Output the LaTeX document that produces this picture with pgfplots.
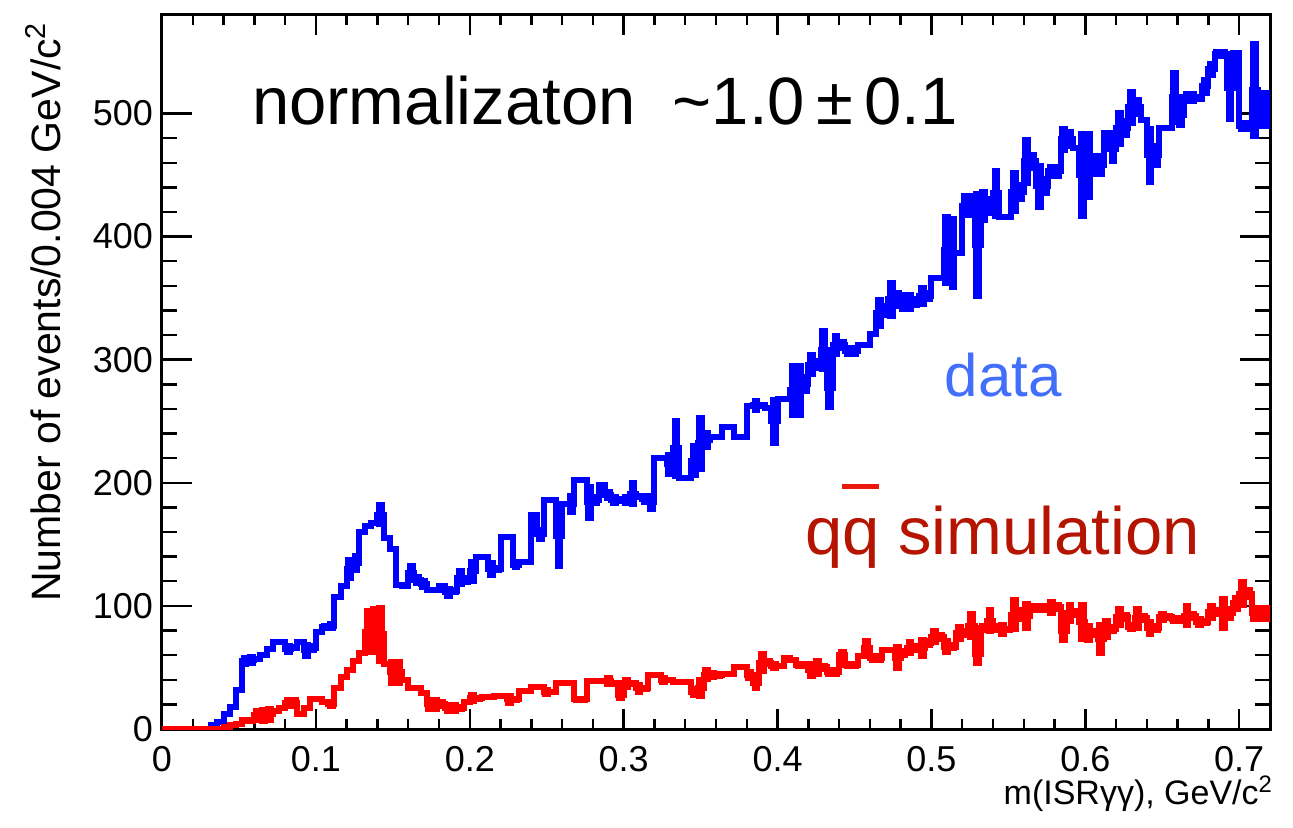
\documentclass[border=0pt]{standalone}
\usepackage{fontspec}
\setmainfont{Liberation Sans}
\usepackage{pgfplots}
\usepackage{pgfplotstable}
\pgfplotsset{compat=1.18}
\definecolor{datacol}{RGB}{65,110,250}
\definecolor{simcol}{RGB}{180,20,0}
\definecolor{qbarcol}{RGB}{235,25,10}
\definecolor{hblue}{RGB}{0,0,255}
\definecolor{hred}{RGB}{255,0,0}

\pgfplotstableread{
x y e
0.000 0 0
0.002 0 0
0.006 0 0
0.010 0 0
0.014 0 0
0.018 0 0
0.022 0 0
0.026 0 0
0.030 0 0
0.034 3 0
0.038 6 0
0.042 12 0
0.046 18 0
0.050 32 0
0.054 55 5
0.058 56 5
0.062 57 0
0.066 60 0
0.070 65 0
0.074 71 0
0.078 71 0
0.082 65 5
0.086 66 3
0.090 71 0
0.094 64 7
0.098 66 4
0.102 79 0
0.106 83 3
0.110 84 4
0.114 107 0
0.118 116 0
0.122 130 10
0.126 135 8
0.130 160 0
0.134 165 0
0.138 167 0
0.142 174 10
0.146 155 0
0.150 146 0
0.154 117 0
0.158 116 0
0.162 127 8
0.166 121 5
0.170 118 5
0.174 113 0
0.178 113 0
0.182 116 0
0.186 111 5
0.190 112 3
0.194 123 8
0.198 121 4
0.202 128 10
0.206 140 0
0.210 140 0
0.214 130 7
0.218 130 3
0.222 156 0
0.226 156 0
0.230 133 4
0.234 136 0
0.238 136 0
0.242 174 0
0.246 158 6
0.250 186 0
0.254 186 0
0.258 157 27
0.262 183 0
0.266 183 9
0.270 202 0
0.274 202 0
0.278 184 15
0.282 186 5
0.286 198 0
0.290 190 5
0.294 186 5
0.298 186 3
0.302 186 5
0.306 191 11
0.310 189 3
0.314 187 5
0.318 184 8
0.322 220 0
0.326 220 0
0.330 215 10
0.334 228 25
0.338 204 0
0.342 204 0
0.346 218 14
0.350 232 23
0.354 235 8
0.358 237 0
0.362 237 0
0.366 245 0
0.370 245 0
0.374 237 0
0.378 237 0
0.382 262 0
0.386 263 6
0.390 263 3
0.394 261 0
0.398 250 20
0.402 268 0
0.406 268 0
0.410 275 22
0.414 275 22
0.418 280 8
0.422 296 10
0.426 296 5
0.430 308 18
0.434 277 18
0.438 312 10
0.442 312 5
0.446 307 5
0.450 307 5
0.454 312 0
0.458 312 0
0.462 321 0
0.466 338 13
0.470 340 6
0.474 349 16
0.478 349 8
0.482 347 8
0.486 347 8
0.490 347 5
0.494 352 9
0.498 352 5
0.502 366 0
0.506 366 0
0.510 389 29
0.514 387 30
0.518 387 0
0.522 425 10
0.526 425 10
0.530 393 44
0.534 425 14
0.538 425 8
0.542 435 21
0.546 416 0
0.550 416 0
0.554 436 18
0.558 436 8
0.562 461 20
0.566 461 8
0.570 441 19
0.574 441 8
0.578 453 6
0.582 453 6
0.586 479 11
0.590 479 8
0.594 472 0
0.598 450 36
0.602 458 28
0.606 458 10
0.610 458 10
0.614 484 0
0.618 471 12
0.622 488 15
0.626 488 8
0.630 505 15
0.634 505 8
0.638 495 0
0.642 466 24
0.646 466 10
0.650 488 0
0.654 488 0
0.658 513 22
0.662 499 11
0.666 513 5
0.670 513 5
0.674 512 0
0.678 522 8
0.682 536 7
0.686 548 4
0.690 548 4
0.694 521 28
0.698 549 0
0.702 490 5
0.706 490 5
0.710 519 40
0.714 503 16
0.718 503 16
0.720 503 0
}\datatable

\pgfplotstableread{
x y e
0.000 0 0
0.002 0 0
0.006 0 0
0.010 0 0
0.014 0 0
0.018 0 0
0.022 0 0
0.026 0 0
0.030 0 0
0.034 0 0
0.038 0 0
0.042 2 0
0.046 3 0
0.050 4 0
0.054 7 3
0.058 7 3
0.062 11 6
0.066 11 7
0.070 12 7
0.074 15 0
0.078 17 0
0.082 21 5
0.086 21 5
0.090 12 0
0.094 17 0
0.098 24 0
0.102 24 0
0.106 22 0
0.110 20 4
0.114 33 0
0.118 42 0
0.122 48 0
0.126 55 0
0.130 62 0
0.134 79 19
0.138 80 20
0.142 77 24
0.146 53 0
0.150 46 11
0.154 46 11
0.158 40 0
0.162 33 0
0.166 33 0
0.170 29 0
0.174 20 6
0.178 20 6
0.182 20 4
0.186 17 5
0.190 17 5
0.194 17 3
0.198 22 0
0.202 25 5
0.206 25 3
0.210 26 0
0.214 26 0
0.218 27 0
0.222 27 0
0.226 24 5
0.230 24 3
0.234 31 0
0.238 31 0
0.242 34 0
0.246 34 0
0.250 30 4
0.254 30 2
0.258 37 0
0.262 37 0
0.266 37 0
0.270 24 3
0.274 24 3
0.278 39 0
0.282 39 0
0.286 39 0
0.290 39 5
0.294 37 3
0.298 28 5
0.302 37 5
0.306 37 3
0.310 33 5
0.314 33 3
0.318 44 0
0.322 44 0
0.326 40 4
0.330 40 2
0.334 38 0
0.338 38 0
0.342 38 0
0.346 30 5
0.350 33 9
0.354 44 6
0.358 44 4
0.362 44 3
0.366 45 0
0.370 45 0
0.374 50 0
0.378 50 0
0.382 44 5
0.386 37 6
0.390 54 9
0.394 54 4
0.398 51 4
0.402 51 2
0.406 58 0
0.410 56 0
0.414 52 3
0.418 52 3
0.422 48 7
0.426 50 8
0.430 50 4
0.434 46 4
0.438 46 4
0.442 60 5
0.446 52 3
0.450 52 3
0.454 59 0
0.458 66 8
0.462 58 4
0.466 58 4
0.470 64 0
0.474 64 0
0.478 58 11
0.482 62 4
0.486 66 7
0.490 66 4
0.494 66 9
0.498 70 4
0.502 75 7
0.506 75 4
0.510 67 7
0.514 67 4
0.518 78 7
0.522 78 4
0.526 84 12
0.530 61 10
0.534 82 4
0.538 88 11
0.542 82 4
0.546 81 6
0.550 81 3
0.554 93 14
0.558 93 6
0.562 92 12
0.566 98 4
0.570 98 4
0.574 98 4
0.578 99 7
0.582 99 4
0.586 80 10
0.590 94 9
0.594 94 4
0.598 87 16
0.602 78 8
0.606 78 4
0.610 73 14
0.614 81 9
0.618 81 4
0.622 91 9
0.626 91 4
0.630 83 4
0.634 90 10
0.638 90 4
0.642 82 7
0.646 82 4
0.650 91 5
0.654 91 3
0.658 89 4
0.662 89 4
0.666 92 10
0.670 92 4
0.674 87 5
0.678 87 3
0.682 95 7
0.686 95 4
0.690 94 14
0.694 94 6
0.698 102 7
0.702 110 12
0.706 110 5
0.710 94 7
0.714 94 7
0.718 94 7
0.720 94 0
}\simtable

\begin{document}
\begin{tikzpicture}
\begin{axis}[
  at={(0,0)}, anchor=south west,
  scale only axis, width=554pt, height=357pt,
  xmin=0, xmax=0.72, ymin=0, ymax=580,
  xtick={0,0.1,0.2,0.3,0.4,0.5,0.6,0.7},
  ytick={0,100,200,300,400,500},
  minor x tick num=4, minor y tick num=4,
  tick align=inside,
  axis line style={line width=1.5pt},
  every tick/.style={black, line width=1.2pt},
  major tick length=15pt, minor tick length=7.5pt,
  xtick style={/pgfplots/major tick length=10pt, /pgfplots/minor tick length=5pt},
  tick label style={font=\fontsize{18}{20}\selectfont},
  /pgf/number format/assume math mode=true,
  xticklabel style={yshift=-5pt},
  yticklabel style={xshift=-1pt},
  clip mode=individual,
]
\addplot[hblue, line width=3pt, line join=miter, const plot mark mid, mark=none,
  error bars/.cd, y dir=both, y explicit, error mark=none,
  error bar style={line width=4.4pt, line cap=butt, solid}]
  table[x=x, y=y, y error=e] {\datatable};
\addplot[hred, line width=3pt, line join=miter, const plot mark mid, mark=none,
  error bars/.cd, y dir=both, y explicit, error mark=none,
  error bar style={line width=4.4pt, line cap=butt, solid}]
  table[x=x, y=y, y error=e] {\simtable};

\node[anchor=base west, font=\fontsize{33.5}{38}\selectfont] at (rel axis cs:0.075,0.846)
  {normalizaton \ \textasciitilde1.0\,±\,0.1};
\node[anchor=base west, text=datacol, font=\fontsize{30}{34}\selectfont] at (rel axis cs:0.700,0.465) {data};
\node[anchor=base west, text=simcol, font=\fontsize{33.5}{38}\selectfont] at (rel axis cs:0.574,0.244)
  {q\rlap{\color{qbarcol}\rule[0.98em]{0.54em}{0.07em}}q simulation};
\node[rotate=90, anchor=base east, font=\fontsize{20.5}{24}\selectfont] at (rel axis cs:-0.092,1)
  {Number of events/0.004 GeV/c\textsuperscript{2}};
\node[anchor=base east, font=\fontsize{17}{20}\selectfont, xshift=5pt] at (rel axis cs:1,-0.106)
  {m(ISRγγ), GeV/c\textsuperscript{2}};
\end{axis}
\pgfresetboundingbox
\path[use as bounding box] (-81pt,-49.5pt) rectangle (565.5pt,364.5pt);
\end{tikzpicture}
\end{document}
